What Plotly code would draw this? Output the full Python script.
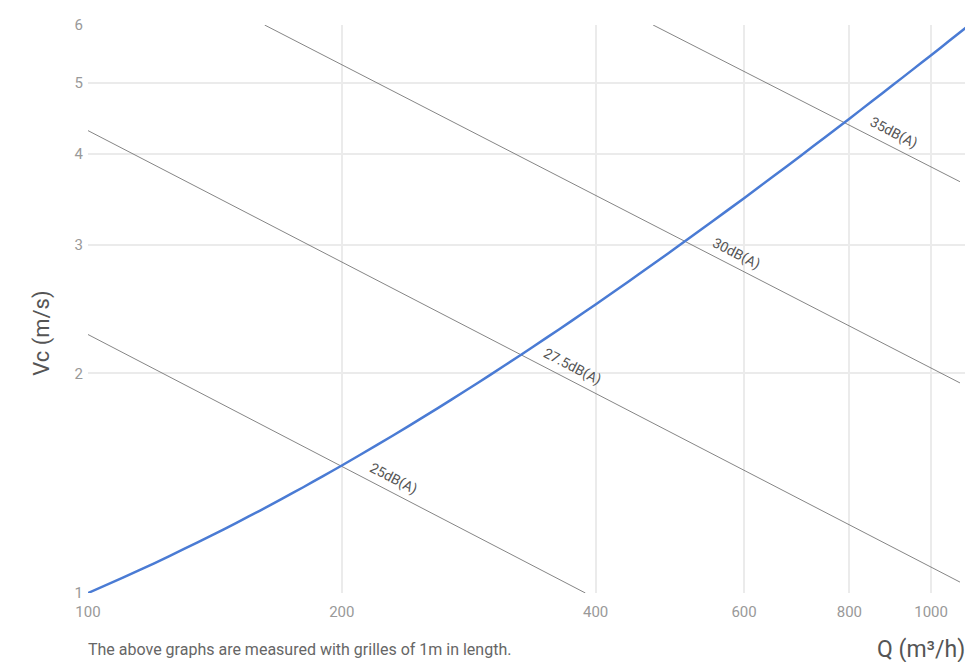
import plotly.graph_objects as go
import math

# Main curve: velocity vs flow rate
flow_q = [100, 110, 120, 130, 140, 150, 160, 170, 180, 190, 200, 220, 240, 260,
          280, 300, 325, 350, 375, 400, 425, 450, 475, 500, 550, 600, 650, 700,
          750, 800, 850, 900, 950, 1000, 1050, 1100]
vc = [1.000, 1.050, 1.099, 1.149, 1.198, 1.248, 1.297, 1.347, 1.396, 1.446,
      1.495, 1.594, 1.693, 1.792, 1.891, 1.990, 2.114, 2.238, 2.361, 2.485,
      2.609, 2.733, 2.856, 2.980, 3.228, 3.475, 3.723, 3.970, 4.218, 4.465,
      4.713, 4.960, 5.208, 5.455, 5.703, 5.950]

# Noise iso-lines (straight on log-log), two end points each
noise_labels = ["25dB(A)", "27.5dB(A)", "30dB(A)", "35dB(A)"]
noise_q_start = [100, 100, 162, 468]
noise_v_start = [2.26, 4.30, 6.0, 6.0]
noise_q_end = [389, 1082, 1082, 1082]
noise_v_end = [1.0, 1.035, 1.94, 3.66]
noise_label_q = [227, 370, 579, 889]

x_ticks = [100, 200, 400, 600, 800, 1000]
y_ticks = [1, 2, 3, 4, 5, 6]

fig = go.Figure()

for i, lab in enumerate(noise_labels):
    fig.add_trace(go.Scatter(
        x=[noise_q_start[i], noise_q_end[i]],
        y=[noise_v_start[i], noise_v_end[i]],
        mode="lines", line=dict(color="#666666", width=0.8),
        hoverinfo="skip", showlegend=False))

fig.add_trace(go.Scatter(
    x=flow_q, y=vc, mode="lines",
    line=dict(color="#4a7bd4", width=2.5, shape="spline", smoothing=0.5),
    showlegend=False))

# labels along the iso-lines
for i, lab in enumerate(noise_labels):
    lx0, ly0 = math.log10(noise_q_start[i]), math.log10(noise_v_start[i])
    lx1, ly1 = math.log10(noise_q_end[i]), math.log10(noise_v_end[i])
    lq = math.log10(noise_label_q[i])
    lv = ly0 + (ly1 - ly0) * (lq - lx0) / (lx1 - lx0)
    fig.add_annotation(
        x=lq, y=lv, xref="x", yref="y", text=lab, showarrow=False,
        textangle=27.4, xshift=5, yshift=12,
        font=dict(family="Roboto", size=14, color="#555555"))

fig.update_xaxes(
    type="log", range=[2, math.log10(1097)],
    tickvals=x_ticks, ticktext=[str(t) for t in x_ticks],
    showgrid=True, gridcolor="#ebebeb", gridwidth=1.5,
    zeroline=False, showline=False, ticks="", ticklabelstandoff=8,
    tickfont=dict(family="Roboto", size=15, color="#999999"))
fig.update_yaxes(
    type="log", range=[0, math.log10(6)],
    tickvals=y_ticks, ticktext=[str(t) for t in y_ticks],
    showgrid=True, gridcolor="#ebebeb", gridwidth=1.5,
    zeroline=False, showline=False, ticks="", ticklabelstandoff=4,
    tickfont=dict(family="Roboto", size=15, color="#999999"))

fig.add_annotation(
    text="Vc (m/s)", xref="paper", yref="paper", x=-0.0525, y=0.458,
    xanchor="center", yanchor="middle", textangle=-90, showarrow=False,
    font=dict(family="Roboto", size=22, color="#555555"))
fig.add_annotation(
    text="Q (m³/h)", xref="paper", yref="paper", x=1.002, y=-0.1,
    xanchor="right", yanchor="middle", showarrow=False,
    font=dict(family="Roboto", size=23, color="#555555"))
fig.add_annotation(
    text="The above graphs are measured with grilles of 1m in length.",
    xref="paper", yref="paper", x=-0.002, y=-0.1,
    xanchor="left", yanchor="middle", showarrow=False,
    font=dict(family="Roboto", size=16, color="#666666"))

fig.update_layout(
    width=969, height=662,
    margin=dict(l=88, r=4, t=25, b=69),
    plot_bgcolor="white", paper_bgcolor="white",
    showlegend=False)

fig.write_html("out.html", config={"displayModeBar": False},
               post_script="document.body.style.margin='0';")
